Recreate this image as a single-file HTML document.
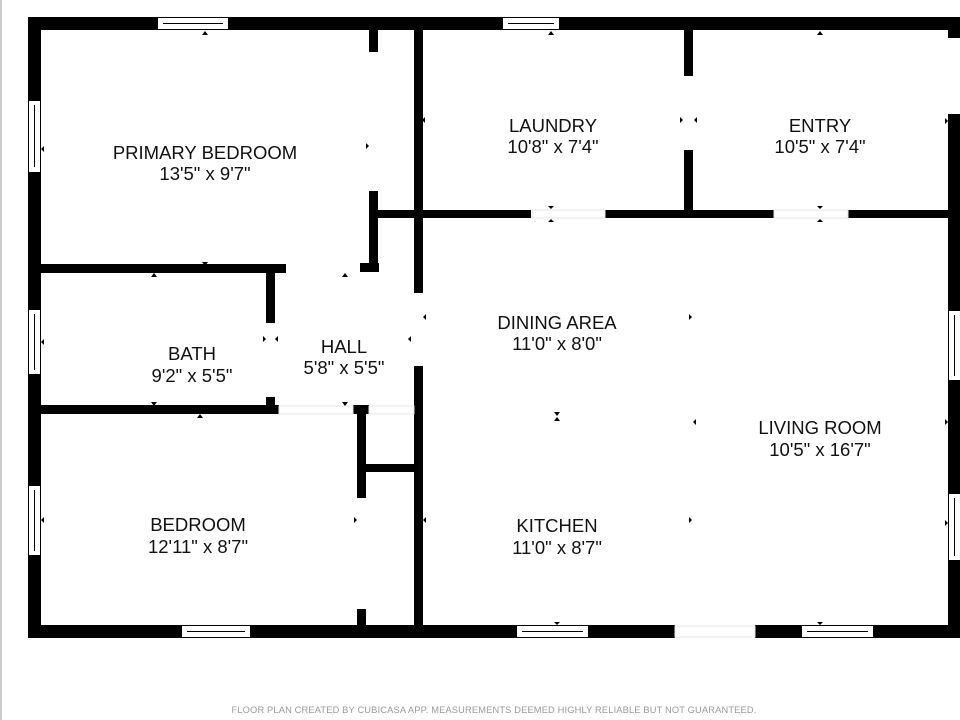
<!DOCTYPE html>
<html><head><style>body{margin:0;background:#fff}svg{display:block}text{font-family:"Liberation Sans",sans-serif;font-size:18.5px;fill:#111;text-anchor:middle}</style></head><body>
<svg width="960" height="720" viewBox="0 0 960 720">
<rect x="0" y="0" width="2" height="720" fill="#ccc"/>
<g fill="#000">
<rect x="28" y="17" width="932" height="13"/>
<rect x="28" y="17" width="13" height="621"/>
<rect x="28" y="625" width="647" height="13"/>
<rect x="755" y="625" width="205" height="13"/>
<rect x="948" y="17" width="12" height="21"/>
<rect x="948" y="114" width="12" height="524"/>
<rect x="369" y="30" width="9" height="22"/>
<rect x="369" y="191" width="9" height="81"/>
<rect x="360" y="263" width="19" height="9"/>
<rect x="414" y="30" width="9" height="263"/>
<rect x="414" y="366" width="9" height="272"/>
<rect x="377" y="210" width="154" height="8"/>
<rect x="605" y="210" width="169" height="8"/>
<rect x="848" y="210" width="100" height="8"/>
<rect x="684" y="30" width="9" height="46"/>
<rect x="684" y="150" width="9" height="68"/>
<rect x="41" y="264" width="245" height="9"/>
<rect x="266" y="264" width="9" height="59"/>
<rect x="41" y="405" width="238" height="9"/>
<rect x="266" y="397" width="9" height="17"/>
<rect x="353" y="405" width="16" height="9"/>
<rect x="357" y="405" width="9" height="93"/>
<rect x="366" y="464" width="48" height="8"/>
<rect x="357" y="609" width="9" height="20"/>
</g>
<g fill="none" stroke="#e4e4e4" stroke-width="1">
<rect x="279" y="406" width="74" height="8"/><rect x="369" y="406" width="45" height="8"/>
<rect x="532" y="210" width="73" height="8"/><rect x="774" y="210" width="74" height="8"/>
<rect x="675" y="626" width="80" height="11"/>
</g>
<g fill="#fff" stroke="#000" stroke-width="1">
<rect x="157.5" y="17.5" width="71" height="12"/><line x1="163" y1="23.5" x2="223" y2="23.5"/>
<rect x="502.5" y="17.5" width="57" height="12"/><line x1="508" y1="23.5" x2="554" y2="23.5"/>
<rect x="181.5" y="625.5" width="69" height="12"/><line x1="187" y1="631.5" x2="245" y2="631.5"/>
<rect x="516.5" y="625.5" width="72" height="12"/><line x1="522" y1="631.5" x2="583" y2="631.5"/>
<rect x="801.5" y="625.5" width="72" height="12"/><line x1="807" y1="631.5" x2="868" y2="631.5"/>
<rect x="28.5" y="100.5" width="12" height="72"/><line x1="34.5" y1="105" x2="34.5" y2="167"/>
<rect x="28.5" y="309.5" width="12" height="65"/><line x1="34.5" y1="314" x2="34.5" y2="370"/>
<rect x="28.5" y="485.5" width="12" height="70"/><line x1="34.5" y1="490" x2="34.5" y2="551"/>
<rect x="948.5" y="310.5" width="12" height="70"/><line x1="954.5" y1="315" x2="954.5" y2="376"/>
<rect x="948.5" y="493.5" width="12" height="67"/><line x1="954.5" y1="498" x2="954.5" y2="556"/>
</g>
<g fill="#000">
<path d="M202 35l3-4 3 4z"/><path d="M548 35l3-4 3 4z"/><path d="M817 35l3-4 3 4z"/>
<path d="M202 262l3 4 3-4z"/><path d="M151 277l3-4 3 4z"/><path d="M342 277l3-4 3 4z"/>
<path d="M44 146l-3 3 3 3z"/><path d="M366 143l3 3-3 3z"/><path d="M425 117l-3 3 3 3z"/>
<path d="M680 117l3 3-3 3z"/><path d="M697 117l-3 3 3 3z"/><path d="M945 118l3 3-3 3z"/>
<path d="M548 206l3 3 3-3z"/><path d="M548 222l3-3 3 3z"/><path d="M817 206l3 3 3-3z"/><path d="M817 222l3-3 3 3z"/>
<path d="M689 314l3 3-3 3z"/><path d="M426 314l-3 3 3 3z"/><path d="M411 336l-3 3 3 3z"/>
<path d="M263 336l3 3-3 3z"/><path d="M278 336l-3 3 3 3z"/><path d="M44 339l-3 3 3 3z"/>
<path d="M151 402l3 4 3-4z"/><path d="M197 418l3-4 3 4z"/><path d="M342 402l3 4 3-4z"/>
<path d="M554 412h6l-3 4z"/><path d="M554 421h6l-3-4z"/><path d="M696 419l-3 3 3 3z"/><path d="M945 419l3 3-3 3z"/>
<path d="M689 517l3 3-3 3z"/><path d="M426 517l-3 3 3 3z"/><path d="M354 517l3 3-3 3z"/><path d="M44 517l-3 3 3 3z"/>
<path d="M554 622l3 3 3-3z"/><path d="M817 622l3 3 3-3z"/><path d="M945 520l3 3-3 3z"/>
</g>
<text x="205" y="159">PRIMARY BEDROOM</text><text x="205" y="180">13'5" x 9'7"</text>
<text x="553" y="132">LAUNDRY</text><text x="553" y="153">10'8" x 7'4"</text>
<text x="820" y="132">ENTRY</text><text x="820" y="153">10'5" x 7'4"</text>
<text x="557" y="329">DINING AREA</text><text x="557" y="350">11'0" x 8'0"</text>
<text x="344" y="353">HALL</text><text x="344" y="374">5'8" x 5'5"</text>
<text x="192" y="360">BATH</text><text x="192" y="382">9'2" x 5'5"</text>
<text x="820" y="434">LIVING ROOM</text><text x="820" y="456">10'5" x 16'7"</text>
<text x="198" y="531">BEDROOM</text><text x="198" y="553">12'11" x 8'7"</text>
<text x="557" y="532">KITCHEN</text><text x="557" y="554">11'0" x 8'7"</text>
<text x="494" y="713" style="font-size:9.3px;fill:#999;letter-spacing:0.15px">FLOOR PLAN CREATED BY CUBICASA APP. MEASUREMENTS DEEMED HIGHLY RELIABLE BUT NOT GUARANTEED.</text>
</svg>
</body></html>
